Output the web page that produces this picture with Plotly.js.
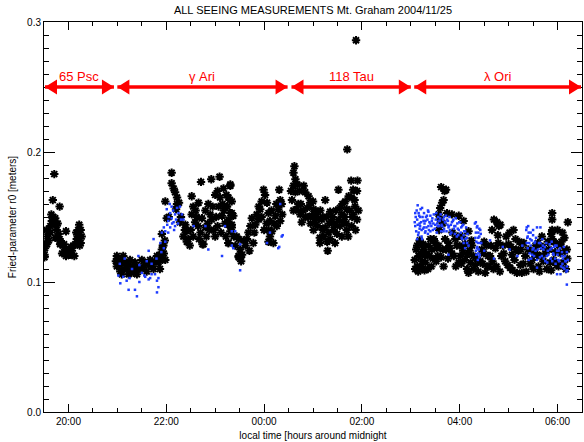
<!DOCTYPE html>
<html>
<head>
<meta charset="utf-8">
<script src="https://cdn.plot.ly/plotly-3.0.1.min.js"></script>
<style>html,body{margin:0;padding:0;background:#fff;}#chart{width:584px;height:442px;}</style>
</head>
<body>
<div id="chart"></div>
<script>
// local time in hours around midnight (negative = before midnight), r0 in meters
const blackTime = [
-4.29,-4.32,-4.18,-4.49,-4.48,-4.46,-4.43,-4.41,-4.37,-4.34,-4.31,-4.27,-4.25,-4.24,-4.20,-4.18,-4.16,-4.11,-4.09,-4.07,-4.03,-4.00,-3.97,-3.93,-3.90,-3.86,-3.83,-3.81,-3.80,-3.78,-3.75,-3.73,-3.75,-4.05,-4.37,-4.44,-4.49,-4.31,-4.27,-4.17,-3.98,-3.80,
-4.45,-4.40,-4.35,-4.22,-4.13,-4.05,-3.95,-3.88,-3.84,-3.77,
-3.01,-2.98,-3.01,-2.94,-2.88,-2.84,-2.81,-2.74,-2.70,-2.67,-2.60,-2.57,-2.53,-2.47,-2.43,-2.36,-2.33,-2.29,-2.23,-2.19,-2.16,-2.12,-2.09,-2.06,-2.08,-2.02,-2.91,-2.77,-2.64,-2.50,-2.09,-2.07,-3.03,-2.95,-2.90,-2.78,-2.86,-2.72,-2.62,-2.40,-2.26,-2.13,-2.05,-2.03,
-1.89,-1.89,-1.85,-1.82,-1.78,-1.74,-2.02,-1.99,-1.78,-1.48,-1.29,-1.08,-0.91,-0.83,-0.69,-1.00,-0.90,-1.34,-1.14,-0.93,-0.76,-0.66,-1.48,-1.27,-1.07,-0.86,-0.73,-1.61,-1.58,-1.65,-1.55,-1.41,-1.20,-1.03,-1.24,-0.73,-0.69,-0.66,-1.72,-1.58,-1.26,
-1.50,-1.45,-1.35,-1.30,-1.15,-1.10,-0.98,-0.95,-0.88,-0.80,-0.78,-1.40,-1.20,-1.05,-0.85,-0.70,
-1.95,-1.80,-1.70,-1.62,-1.52,-1.45,-1.38,-1.33,-1.18,-1.12,-1.00,-0.95,-0.82,-0.77,-0.62,-0.42,-0.30,-0.20,-0.05,0.00,0.05,0.15,0.20,0.25,0.37,
-0.69,-0.73,-0.66,-0.76,-0.69,-0.63,-0.73,-0.66,-0.73,-0.56,-0.52,-0.59,-0.49,-0.52,-0.45,-0.38,-0.35,-0.32,-0.28,-0.25,-0.22,-0.18,-0.15,-0.11,-0.05,-0.01,0.02,0.06,-0.08,-0.11,0.09,0.12,0.09,0.12,0.09,0.19,0.23,0.29,0.33,0.31,0.36,0.33,0.26,0.16,-0.52,-0.47,
0.62,0.60,0.64,0.60,0.57,0.64,0.67,0.74,0.77,0.81,0.84,0.91,0.94,0.88,1.01,0.98,1.08,1.11,1.04,1.18,1.25,1.01,1.14,1.14,1.25,1.32,1.29,1.30,1.35,1.38,1.42,1.49,1.45,1.52,1.52,1.55,1.59,1.62,1.69,1.66,1.73,1.78,1.91,1.82,1.90,1.79,1.86,1.82,1.90,1.79,1.69,1.59,1.70,1.88,
0.70,0.85,0.95,1.05,1.10,1.20,1.22,1.35,1.40,1.47,1.55,1.65,1.75,1.85,0.55,0.72,
0.60,0.68,0.75,0.80,0.90,1.00,1.15,1.20,1.28,1.33,1.45,1.60,1.68,1.72,1.80,1.87,1.93,
3.13,3.16,3.13,3.19,3.26,3.23,3.29,3.36,3.35,3.43,3.50,3.40,3.53,3.09,3.57,3.60,3.64,3.67,3.69,3.60,3.74,3.84,3.98,4.08,3.77,3.84,3.94,4.01,3.98,3.91,4.05,4.11,4.15,4.15,4.22,4.28,4.18,4.28,4.42,4.49,4.56,4.62,4.69,4.73,4.66,4.76,4.83,4.79,4.90,4.93,5.00,5.07,5.10,5.14,5.20,5.24,5.17,5.27,5.31,5.34,5.48,5.51,5.58,5.61,5.68,5.71,5.78,5.82,5.89,5.89,5.89,5.89,5.99,6.06,6.12,6.14,6.21,6.19,6.17,5.99,5.92,5.03,4.52,4.18,
3.62,3.72,4.70,4.80,3.20,3.30,3.45,3.55,3.65,3.70,3.85,4.00,4.25,4.35,4.45,4.55,4.60,4.85,4.95,5.05,5.12,5.25,5.40,5.55,5.65,5.75,5.85,5.95,6.05,3.58,3.65,
3.08,3.11,3.15,3.18,3.22,3.25,3.28,3.32,3.38,3.42,3.47,3.52,3.57,3.62,3.67,3.72,3.76,3.80,3.88,3.92,3.96,4.03,4.07,4.10,4.20,4.24,4.32,4.38,4.47,4.50,4.58,4.64,4.67,4.75,4.78,4.82,4.88,4.98,5.02,5.08,5.15,5.22,5.30,5.36,5.44,5.52,5.60,5.63,5.70,5.80,5.87,5.92,6.02,6.08,6.15,6.20,6.00,6.10,5.87
];
const blackR0 = [
0.183,0.163,0.158,0.121,0.126,0.130,0.135,0.139,0.143,0.147,0.150,0.149,0.144,0.140,0.137,0.133,0.130,0.128,0.129,0.125,0.124,0.122,0.121,0.124,0.128,0.129,0.133,0.137,0.140,0.144,0.140,0.135,0.130,0.139,0.138,0.129,0.119,0.146,0.134,0.129,0.125,0.133,
0.140,0.132,0.152,0.145,0.122,0.120,0.127,0.120,0.138,0.128,
0.120,0.117,0.112,0.108,0.120,0.115,0.110,0.117,0.112,0.107,0.106,0.112,0.110,0.111,0.115,0.113,0.117,0.112,0.116,0.120,0.115,0.121,0.125,0.128,0.117,0.117,0.106,0.106,0.115,0.117,0.137,0.128,0.116,0.113,0.116,0.113,0.110,0.108,0.110,0.108,0.110,0.110,0.122,0.132,
0.184,0.176,0.172,0.169,0.165,0.161,0.162,0.149,0.160,0.166,0.177,0.179,0.181,0.172,0.174,0.167,0.165,0.161,0.160,0.158,0.158,0.153,0.152,0.149,0.148,0.151,0.148,0.144,0.139,0.135,0.133,0.146,0.142,0.140,0.129,0.130,0.139,0.144,0.146,0.131,0.129,
0.140,0.135,0.143,0.138,0.145,0.152,0.150,0.143,0.138,0.145,0.135,0.155,0.155,0.158,0.160,0.163,
0.150,0.156,0.150,0.140,0.128,0.158,0.150,0.133,0.135,0.140,0.135,0.170,0.155,0.167,0.135,0.132,0.124,0.138,0.150,0.140,0.145,0.155,0.145,0.160,0.152,
0.175,0.165,0.162,0.158,0.153,0.151,0.144,0.142,0.130,0.135,0.133,0.128,0.125,0.120,0.121,0.128,0.133,0.138,0.143,0.149,0.130,0.144,0.152,0.158,0.162,0.171,0.167,0.161,0.156,0.148,0.153,0.147,0.140,0.135,0.131,0.130,0.151,0.156,0.163,0.171,0.160,0.147,0.143,0.139,0.119,0.116,
0.189,0.184,0.179,0.174,0.163,0.169,0.156,0.152,0.146,0.174,0.169,0.166,0.161,0.157,0.156,0.151,0.154,0.149,0.146,0.148,0.163,0.140,0.134,0.130,0.142,0.138,0.131,0.124,0.154,0.146,0.140,0.137,0.144,0.148,0.171,0.157,0.152,0.146,0.156,0.162,0.166,0.178,0.178,0.171,0.170,0.165,0.158,0.152,0.148,0.143,0.140,0.135,0.202,0.286,
0.160,0.150,0.145,0.150,0.143,0.140,0.135,0.133,0.150,0.155,0.143,0.150,0.155,0.163,0.170,0.170,
0.155,0.175,0.160,0.155,0.150,0.162,0.155,0.150,0.150,0.145,0.130,0.160,0.145,0.135,0.150,0.140,0.155,
0.112,0.120,0.128,0.131,0.125,0.116,0.121,0.128,0.110,0.125,0.130,0.133,0.126,0.110,0.152,0.157,0.161,0.163,0.170,0.148,0.153,0.152,0.151,0.147,0.130,0.122,0.128,0.120,0.115,0.133,0.135,0.129,0.121,0.110,0.115,0.110,0.139,0.120,0.116,0.122,0.112,0.120,0.110,0.126,0.140,0.146,0.144,0.130,0.122,0.116,0.129,0.121,0.140,0.133,0.124,0.113,0.107,0.107,0.130,0.120,0.117,0.110,0.121,0.112,0.135,0.116,0.110,0.125,0.153,0.148,0.140,0.133,0.129,0.122,0.115,0.134,0.146,0.125,0.110,0.113,0.117,0.111,0.107,0.107,
0.173,0.171,0.148,0.143,0.122,0.115,0.118,0.120,0.125,0.133,0.138,0.128,0.128,0.118,0.125,0.128,0.112,0.120,0.135,0.127,0.117,0.125,0.125,0.128,0.120,0.122,0.115,0.123,0.128,0.140,0.145,
0.117,0.125,0.108,0.132,0.112,0.129,0.109,0.122,0.120,0.112,0.133,0.116,0.128,0.119,0.112,0.125,0.118,0.126,0.120,0.112,0.135,0.114,0.124,0.117,0.124,0.132,0.113,0.108,0.114,0.131,0.120,0.128,0.116,0.112,0.136,0.108,0.128,0.113,0.138,0.109,0.125,0.131,0.114,0.108,0.114,0.124,0.130,0.108,0.127,0.131,0.109,0.131,0.112,0.131,0.124,0.118,0.140,0.138,0.137
];
const blueTime = [
-1.99,-1.92,-1.89,-1.82,-1.75,-1.96,-1.85,-1.68,-1.78,-1.72,-1.89,-1.65,-1.92,-1.82,-2.02,-2.09,-1.96,-2.26,-2.12,-2.02,-2.36,-2.57,-2.94,-2.81,-2.77,-2.64,-2.60,-2.36,-2.33,-2.23,-2.19,-2.16,-2.19,-2.16,-2.50,-2.43,-1.44,-1.20,-0.80,-0.86,-1.14,-0.63,-0.66,-0.59,-0.66,0.12,0.29,0.36,0.06,-0.49,-0.49,0.31,0.38,0.33,
-2.95,-2.85,-2.70,-2.55,-2.40,-2.30,-2.20,-2.10,-2.05,-2.98,-2.88,-2.75,-2.55,-2.45,-2.30,-1.95,-1.88,-1.80,-1.76,-1.70,-1.86,-1.93,-1.98,-2.05,-1.84,
3.16,3.23,3.13,3.19,3.26,3.33,3.36,3.16,3.29,3.40,3.43,3.09,3.23,3.13,3.09,3.36,3.19,3.27,3.14,
3.50,3.57,3.64,3.70,3.77,3.84,3.91,3.98,4.05,4.11,3.53,3.67,3.81,3.94,4.05,4.15,3.60,3.74,3.87,4.01,4.08,4.11,3.77,
4.35,4.33,4.38,4.32,4.42,4.35,4.38,4.40,4.42,
5.37,5.41,5.44,5.37,5.51,5.48,5.58,5.41,5.54,5.39,
5.65,5.71,5.78,5.85,5.92,5.99,6.02,6.09,6.16,6.19,6.12,5.89,5.75,5.95,5.68,5.58,5.99,6.06,6.19,5.65,5.58,
3.10,3.18,3.22,3.30,3.35,3.40,3.45,3.55,3.62,3.68,3.75,3.80,3.88,3.95,4.02,4.08,4.15,5.45,5.50,5.60,5.70,5.80,5.88,5.95,6.02,6.10,6.15,6.18,4.37,4.40,4.33,
3.08,3.11,3.12,3.14,3.15,3.17,3.18,3.20,3.21,3.22,3.24,3.25,3.27,3.28,3.30,3.31,3.32,3.34,3.35,3.37,3.38,3.40,3.42,3.44,3.46,3.47,3.49,3.51,3.52,3.54,3.56,3.58,3.59,3.61,3.63,3.66,3.68,3.70,3.72,3.73,3.76,3.78,3.79,3.82,3.83,3.86,3.89,3.90,3.92,3.96,3.97,3.99,4.03,4.04,4.07,4.09,4.12,4.13,4.16,4.18,
4.31,4.33,4.34,4.36,4.36,4.38,4.39,4.40,4.41,4.43,4.44,4.34,4.37,
5.36,5.38,5.39,5.40,5.42,5.43,5.45,5.46,5.47,5.49,5.50,5.52,5.53,5.55,5.56,
5.62,5.64,5.66,5.69,5.72,5.74,5.77,5.79,5.81,5.84,5.86,5.88,5.91,5.93,5.96,5.98,6.00,6.03,6.05,6.07,6.09,6.11,6.13,6.14,6.17,6.19,6.21,6.20,
4.50,4.62,4.70,4.88,5.02,5.18,5.28
];
const blueR0 = [
0.156,0.153,0.149,0.152,0.153,0.147,0.146,0.152,0.157,0.158,0.158,0.148,0.142,0.143,0.139,0.138,0.138,0.133,0.130,0.131,0.124,0.120,0.099,0.101,0.094,0.094,0.089,0.102,0.103,0.106,0.101,0.096,0.092,0.103,0.107,0.104,0.143,0.143,0.143,0.120,0.125,0.126,0.139,0.139,0.128,0.138,0.126,0.135,0.130,0.129,0.109,0.127,0.136,0.160,
0.114,0.118,0.110,0.113,0.116,0.114,0.118,0.123,0.126,0.105,0.104,0.103,0.100,0.105,0.106,0.150,0.145,0.148,0.145,0.148,0.155,0.160,0.144,0.142,0.140,
0.153,0.157,0.148,0.143,0.147,0.151,0.143,0.138,0.138,0.139,0.147,0.143,0.133,0.133,0.153,0.154,0.150,0.142,0.159,
0.144,0.147,0.143,0.146,0.142,0.146,0.143,0.140,0.143,0.139,0.138,0.139,0.137,0.135,0.133,0.134,0.149,0.148,0.148,0.146,0.130,0.126,0.121,
0.142,0.146,0.138,0.134,0.130,0.126,0.122,0.119,0.140,
0.142,0.138,0.133,0.130,0.126,0.121,0.117,0.117,0.131,0.135,
0.130,0.125,0.120,0.125,0.121,0.124,0.117,0.120,0.116,0.112,0.111,0.116,0.116,0.128,0.120,0.111,0.106,0.106,0.098,0.142,0.142,
0.150,0.145,0.140,0.147,0.137,0.145,0.140,0.143,0.139,0.150,0.144,0.140,0.141,0.145,0.138,0.136,0.130,0.128,0.136,0.125,0.128,0.124,0.126,0.118,0.124,0.114,0.120,0.108,0.130,0.135,0.124,
0.146,0.139,0.155,0.144,0.136,0.151,0.141,0.156,0.146,0.135,0.150,0.141,0.153,0.145,0.139,0.150,0.142,0.148,0.155,0.140,0.146,0.151,0.143,0.149,0.145,0.152,0.141,0.148,0.153,0.145,0.150,0.143,0.147,0.152,0.144,0.148,0.141,0.146,0.151,0.139,0.147,0.143,0.150,0.144,0.138,0.147,0.143,0.137,0.149,0.141,0.136,0.146,0.142,0.134,0.144,0.139,0.133,0.142,0.137,0.128,
0.145,0.138,0.131,0.127,0.143,0.134,0.125,0.141,0.121,0.137,0.130,0.121,0.117,
0.140,0.134,0.126,0.143,0.130,0.122,0.138,0.118,0.132,0.125,0.140,0.120,0.130,0.124,0.134,
0.130,0.119,0.126,0.133,0.118,0.127,0.130,0.115,0.121,0.129,0.118,0.131,0.122,0.127,0.114,0.128,0.121,0.116,0.126,0.112,0.123,0.118,0.127,0.110,0.116,0.123,0.117,0.109,
0.124,0.132,0.118,0.127,0.125,0.120,0.128
];
const starNames = ['65 Psc', 'γ Ari', '118 Tau', 'λ Ori'];
const starStart = [-4.48, -3.00, 0.56, 3.07];
const starEnd = [-3.07, 0.48, 3.00, 6.48];
const arrowLevel = 0.25;
const tickHours = [-4, -2, 0, 2, 4, 6];
const tickLabels = ['20:00', '22:00', '00:00', '02:00', '04:00', '06:00'];
const yTicks = [0.0, 0.1, 0.2, 0.3];
const yTickLabels = ['0.0', '0.1', '0.2', '0.3'];

const FONT = 'Liberation Sans, Arial, sans-serif';
const RED = '#ff0000';

const traces = [
  {x: blackTime, y: blackR0, type: 'scatter', mode: 'markers', hoverinfo: 'skip',
   marker: {symbol: 'asterisk-open', size: 7, color: '#000', line: {color: '#000', width: 2}}},
  {x: blueTime, y: blueR0, type: 'scatter', mode: 'markers', hoverinfo: 'skip',
   marker: {symbol: 'square', size: 2.5, color: '#1e3cff', line: {width: 0}}}
];

const shapes = [];
const annotations = [];
for (let i = 0; i < starNames.length; i++) {
  shapes.push({type: 'line', xref: 'x', yref: 'y', x0: starStart[i], x1: starEnd[i], y0: arrowLevel, y1: arrowLevel,
               line: {color: RED, width: 3.5}});
  shapes.push({type: 'path', xref: 'x', yref: 'y', xsizemode: 'pixel', ysizemode: 'pixel',
               xanchor: starStart[i], yanchor: arrowLevel, path: 'M0,0 L12,7.5 L12,-7.5 Z',
               fillcolor: RED, line: {width: 0}});
  shapes.push({type: 'path', xref: 'x', yref: 'y', xsizemode: 'pixel', ysizemode: 'pixel',
               xanchor: starEnd[i], yanchor: arrowLevel, path: 'M0,0 L-12,7.5 L-12,-7.5 Z',
               fillcolor: RED, line: {width: 0}});
  annotations.push({x: (starStart[i] + starEnd[i]) / 2, y: arrowLevel, xref: 'x', yref: 'y',
                    text: starNames[i], showarrow: false, yshift: 11, yanchor: 'middle',
                    font: {family: FONT, size: 13, color: RED}});
}

const axisCommon = {
  showline: true, linecolor: '#000', linewidth: 1, mirror: 'allticks',
  ticks: 'inside', tickcolor: '#000', tickwidth: 1,
  showgrid: false, zeroline: false,
  tickfont: {family: FONT, size: 10, color: '#000'}
};

const layout = {
  width: 584, height: 442,
  margin: {l: 44, r: 2, t: 22, b: 30},
  paper_bgcolor: '#fff', plot_bgcolor: '#fff',
  showlegend: false,
  title: {text: 'ALL SEEING MEASUREMENTS Mt. Graham 2004/11/25', font: {family: FONT, size: 11, color: '#000'},
          xref: 'paper', x: 0.5, xanchor: 'center', yref: 'container', y: 1 - 10 / 442, yanchor: 'middle'},
  xaxis: Object.assign({}, axisCommon, {
    range: [-4.5, 6.5], tickmode: 'array', tickvals: tickHours, ticktext: tickLabels, ticklen: 8,
    minor: {tickmode: 'linear', tick0: 0, dtick: 0.5, ticklen: 4, ticks: 'inside', tickcolor: '#000', tickwidth: 1},
    title: {text: 'local time [hours around midnight', font: {family: FONT, size: 10, color: '#000'}, standoff: 5}
  }),
  yaxis: Object.assign({}, axisCommon, {
    range: [0, 0.3], tickmode: 'array', tickvals: yTicks, ticktext: yTickLabels, ticklen: 11,
    minor: {tickmode: 'linear', tick0: 0, dtick: 0.01, ticklen: 5, ticks: 'inside', tickcolor: '#000', tickwidth: 1},
    title: {text: 'Fried-parameter r0 [meters]', font: {family: FONT, size: 10, color: '#000'}, standoff: 8}
  }),
  shapes: shapes,
  annotations: annotations
};

Plotly.newPlot('chart', traces, layout, {staticPlot: true, displayModeBar: false});
</script>
</body>
</html>
